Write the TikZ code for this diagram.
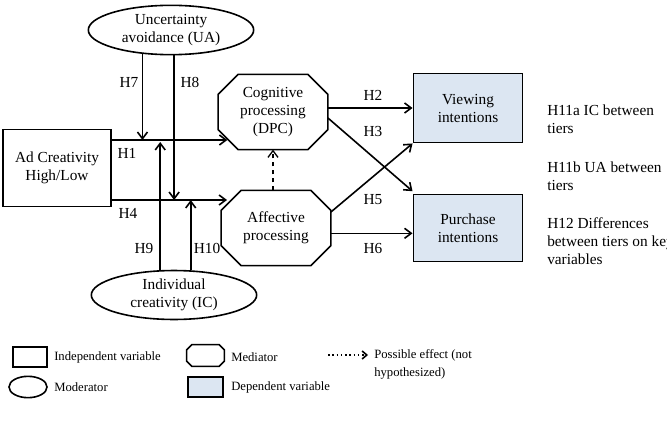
\documentclass[tikz,border=0pt]{standalone}
\usepackage{fontspec}
\setmainfont{Liberation Serif}
\usetikzlibrary{arrows.meta,shapes.geometric,calc}
\definecolor{depblue}{RGB}{220,230,242}

% octagon frame drawn round a (plain) node, #2 = size of the cut corners
\newcommand{\octframe}[2]{%
  \draw[line width=1.2pt] ([xshift=#2]#1.north west) -- ([xshift=-#2]#1.north east)
    -- ([yshift=-#2]#1.north east) -- ([yshift=#2]#1.south east)
    -- ([xshift=-#2]#1.south east) -- ([xshift=#2]#1.south west)
    -- ([yshift=#2]#1.south west) -- ([yshift=-#2]#1.north west) -- cycle;}

\tikzset{
  boxtext/.style={align=center, inner sep=1pt, font=\fontsize{11.5}{13.5}\selectfont},
  indep/.style={boxtext, draw, line width=1.2pt, rectangle},
  moder/.style={boxtext, draw, line width=1.2pt, ellipse},
  medi/.style={boxtext, rectangle},
  depend/.style={boxtext, draw, line width=1.2pt, rectangle, fill=depblue},
  link/.style={line width=1.2pt, -{Straight Barb[length=5pt,width=7.5pt]}},
  hlab/.style={inner sep=0pt, font=\fontsize{11.5}{13.5}\selectfont},
  sidetext/.style={anchor=west, align=left, inner sep=0pt, font=\fontsize{11.5}{13.5}\selectfont},
  legtext/.style={anchor=west, align=left, inner sep=0pt, font=\fontsize{9.5}{13.5}\selectfont},
}

\begin{document}
\begin{tikzpicture}[x=0.75pt, y=-0.75pt]
  \useasboundingbox (0,0) rectangle (667,435);
  \clip (0,0) rectangle (667,435);

  % variables
  \node[moder, minimum width=124pt, minimum height=37pt] (ua) at (171,30) {Uncertainty\\avoidance (UA)};
  \node[moder, minimum width=124pt, minimum height=36pt] (ic) at (174,295) {Individual\\creativity (IC)};
  \node[indep, minimum width=81pt, minimum height=58pt] (ad) at (57,168) {Ad Creativity\\High/Low};
  \node[medi, minimum width=82pt, minimum height=56pt] (cog) at (273,112) {Cognitive\\processing\\(DPC)};
  \node[medi, minimum width=82pt, minimum height=56pt] (aff) at (276,228) {Affective\\processing};
  \octframe{cog}{15pt}
  \octframe{aff}{15pt}
  \node[depend, minimum width=82pt, minimum height=52pt] (view) at (468,108) {Viewing\\intentions};
  \node[depend, minimum width=82pt, minimum height=50pt] (pur) at (468,228) {Purchase\\intentions};

  % paths
  \draw[link] ([yshift=21pt]ad.east) coordinate (h1s) -- ($(h1s -| cog.west)+(7pt,0)$);
  \draw[link] ([yshift=-24pt]ad.east) coordinate (h4s) -- ($(h4s -| aff.west)+(4.5pt,0)$);
  \draw[link] (ua.220) -- (ua.220 |- h1s);
  \draw[link] (ua.277) -- (ua.277 |- h4s);
  \draw[link] (ic.119) -- ($(ic.119 |- h1s)+(0,-1.5pt)$);
  \draw[link] (ic.56) -- (ic.56 |- h4s);
  \draw[link] (cog.east |- view.west) -- (view.west);
  \draw[link] ([yshift=-4.5pt]cog.east) -- ($(pur.north west)+(0,2pt)$);
  \draw[link] ([yshift=12pt]aff.east) -- (view.south west);
  \draw[link] ([yshift=-4pt]aff.east) -- ([yshift=-4pt]pur.west);
  \draw[link, dashed, line width=1pt] (aff.north -| cog.south) -- (cog.south);

  % hypotheses
  \node[hlab] (h7) at (129,82) {H7};
  \node[hlab] (h8) at (190,82) {H8};
  \node[hlab] (h1) at (127,153) {H1};
  \node[hlab] (h4) at (128,213) {H4};
  \node[hlab] (h9) at (144,248) {H9};
  \node[hlab] (h10) at (207,248) {H10};
  \node[hlab] (h2) at (373,95) {H2};
  \node[hlab] (h3) at (373,131) {H3};
  \node[hlab] (h5) at (373,200) {H5};
  \node[hlab] (h6) at (373,248) {H6};

  \node[sidetext] (h11a) at (547,119) {H11a IC between\\tiers};
  \node[sidetext] (h11b) at (547,176) {H11b UA between\\tiers};
  \node[sidetext] (h12) at (547,241) {H12 Differences\\between tiers on key\\variables};

  % legend
  \node[indep, minimum width=25.5pt, minimum height=15pt] (lgind) at (30,357) {};
  \node[legtext] (lgindt) at (54,357) {Independent variable};
  \node[moder, minimum width=28.5pt, minimum height=16pt, inner sep=0pt] (lgmod) at (28,387) {};
  \node[legtext] (lgmodt) at (54,387) {Moderator};
  \node[medi, minimum width=28pt, minimum height=16pt] (lgmed) at (205.5,355.5) {};
  \octframe{lgmed}{4pt}
  \node[legtext] (lgmedt) at (231,357) {Mediator};
  \node[depend, minimum width=26pt, minimum height=15pt] (lgdep) at (205.5,387) {};
  \node[legtext] (lgdept) at (231,387) {Dependent variable};
  \coordinate (lgdot1) at (328,355);
  \coordinate (lgdot2) at (368,355);
  \draw[line width=1.2pt, dotted, -{Straight Barb[length=3.5pt,width=6pt]}] (lgdot1) -- (lgdot2);
  \node[legtext] (lgdott) at (374,364) {Possible effect (not\\hypothesized)};
\end{tikzpicture}
\end{document}
